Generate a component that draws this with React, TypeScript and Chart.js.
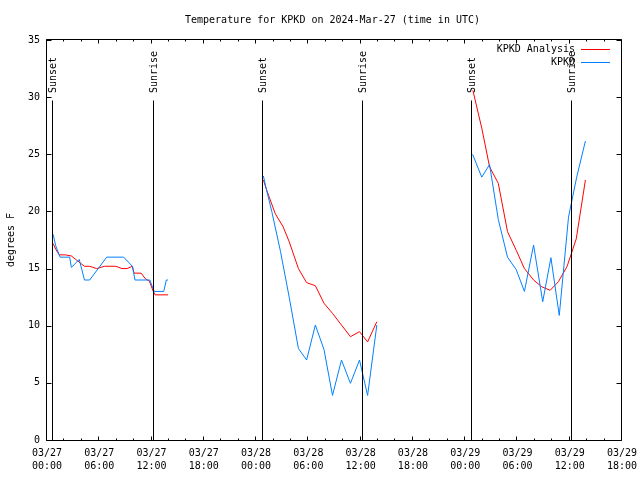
import React, { useEffect, useRef } from "react";
import { Chart, registerables } from "chart.js";

Chart.register(...registerables);

const TITLE = "Temperature for KPKD on 2024-Mar-27 (time in UTC)";
const Y_TITLE = "degrees F";
const FONT = "DejaVu Sans Mono";

// x axis in hours since 2024-03-27 00:00 UTC
const START_UTC = Date.UTC(2024, 2, 27, 0, 0);
const X_MIN = 0;
const X_MAX = 66;
const X_MAJOR = 6;
const X_MINOR = 2;
const Y_MIN = 0;
const Y_MAX = 35;
const Y_STEP = 5;

// KPKD Analysis (red)
const analysisHours1 = [0.7, 1.0, 1.4, 2.1, 2.8, 3.3, 4.3, 4.9, 5.7, 6.6, 7.9, 8.6, 9.2, 9.8, 10.0, 10.8, 11.3, 11.75, 12.2, 12.4, 13.9];
const analysisTemps1 = [17.2, 16.7, 16.2, 16.2, 16.1, 15.8, 15.2, 15.2, 15.0, 15.2, 15.2, 15.0, 15.0, 15.2, 14.6, 14.6, 14.1, 13.9, 13.0, 12.7, 12.7];
const analysisHours2 = [24.84, 25.2, 26.2, 27.1, 27.8, 28.86, 29.8, 30.8, 31.8, 32.77, 33.8, 34.83, 35.87, 36.8, 37.86];
const analysisTemps2 = [22.75, 21.9, 19.8, 18.66, 17.35, 15.0, 13.77, 13.5, 11.96, 11.08, 10.06, 9.04, 9.48, 8.58, 10.35];
const analysisHours3 = [48.88, 49.9, 50.8, 51.8, 52.86, 53.86, 54.8, 55.85, 56.8, 57.76, 58.7, 59.7, 60.75, 61.8];
const analysisTemps3 = [30.6, 27.3, 23.9, 22.46, 18.23, 16.6, 15.0, 14.0, 13.4, 13.1, 13.85, 15.2, 17.6, 22.75];

// KPKD observations (blue)
const obsHours1 = [0.7, 1.0, 1.5, 2.6, 2.8, 3.7, 4.3, 4.9, 6.85, 8.8, 9.8, 10.1, 11.8, 12.3, 13.4, 13.7, 13.9];
const obsTemps1 = [18, 17, 16, 16, 15.1, 15.8, 14, 14, 16, 16, 15.2, 14, 14, 13, 13, 14, 14];
const obsHours2 = [24.84, 25.1, 25.8, 26.8, 27.8, 28.86, 29.8, 30.8, 31.8, 32.77, 33.8, 34.83, 35.87, 36.8, 37.86];
const obsTemps2 = [23.1, 22.2, 20, 16.5, 12.5, 8, 7, 10.06, 7.9, 3.9, 7, 4.96, 7, 3.9, 10.06];
const obsHours3 = [48.85, 49.9, 50.8, 51.8, 52.86, 53.86, 54.8, 55.85, 56.9, 57.84, 58.8, 59.86, 60.8, 61.8];
const obsTemps3 = [25, 23, 24.1, 19.3, 16, 14.9, 13, 17.06, 12.1, 15.95, 10.9, 19.5, 23, 26.16];

// sun events
const sunHours = [0.55, 12.13, 24.65, 36.1, 48.68, 60.1];
const sunLabels = ["Sunset", "Sunrise", "Sunset", "Sunrise", "Sunset", "Sunrise"];

const SERIES_NAMES = ["KPKD Analysis", "KPKD"];
const SERIES_COLORS = ["#ff0000", "#0080ff"];

type Pt = { x: number; y: number | null };

function joinSegments(hs: number[][], ts: number[][]): Pt[] {
  const out: Pt[] = [];
  hs.forEach((h, i) => {
    if (i > 0) out.push({ x: (hs[i - 1][hs[i - 1].length - 1] + h[0]) / 2, y: null });
    h.forEach((x, j) => out.push({ x, y: ts[i][j] }));
  });
  return out;
}

const pad2 = (n: number) => (n < 10 ? "0" + n : "" + n);
function fmtHour(v: number): string[] {
  const d = new Date(START_UTC + v * 3600000);
  return [pad2(d.getUTCMonth() + 1) + "/" + pad2(d.getUTCDate()), pad2(d.getUTCHours()) + ":" + pad2(d.getUTCMinutes())];
}

const decorPlugin = {
  id: "decor",
  afterDatasetsDraw(chart: any) {
    const ctx = chart.ctx as CanvasRenderingContext2D;
    const ca = chart.chartArea;
    const xs = chart.scales.x;
    const ys = chart.scales.y;
    const L = Math.floor(ca.left) - 0.5;
    const R = Math.round(ca.right) - 0.5;
    const T = Math.floor(ca.top) - 0.5;
    const B = Math.round(ca.bottom) + 0.5;
    ctx.save();
    ctx.strokeStyle = "#000";
    ctx.lineWidth = 1;
    // sun lines
    ctx.font = "10px '" + FONT + "'";
    ctx.fillStyle = "#000";
    sunHours.forEach((h, i) => {
      const x = Math.round(xs.getPixelForValue(h)) + 0.5;
      const yTop = ys.getPixelForValue(Y_MIN + (Y_MAX - Y_MIN) * 0.85);
      ctx.beginPath();
      ctx.moveTo(x, B);
      ctx.lineTo(x, Math.round(yTop) + 0.5);
      ctx.stroke();
      ctx.save();
      ctx.translate(x + 0.5, Math.round(yTop) - 7);
      ctx.rotate(-Math.PI / 2);
      ctx.textAlign = "left";
      ctx.textBaseline = "middle";
      ctx.fillText(sunLabels[i], 0, 0);
      ctx.restore();
    });
    // frame
    ctx.beginPath();
    ctx.rect(L, T, R - L, B - T);
    ctx.stroke();
    // x ticks (inward, top and bottom)
    ctx.beginPath();
    for (let v = X_MIN; v <= X_MAX + 1e-9; v += X_MINOR) {
      const x = Math.round(xs.getPixelForValue(v)) - 0.5;
      const len = Math.abs(v % X_MAJOR) < 1e-9 ? 4 : 2;
      ctx.moveTo(x, B);
      ctx.lineTo(x, B - len);
      ctx.moveTo(x, T);
      ctx.lineTo(x, T + len);
    }
    // y ticks (inward, left and right)
    for (let v = Y_MIN; v <= Y_MAX + 1e-9; v += Y_STEP) {
      const y = Math.round(ys.getPixelForValue(v)) + 0.5;
      ctx.moveTo(L, y);
      ctx.lineTo(L + 5, y);
      ctx.moveTo(R, y);
      ctx.lineTo(R - 5, y);
    }
    ctx.stroke();
    // title
    ctx.textAlign = "center";
    ctx.textBaseline = "middle";
    ctx.fillText(TITLE, 332.5, 20);
    // legend
    ctx.textAlign = "right";
    SERIES_NAMES.forEach((name, i) => {
      const y = 49.5 + i * 13;
      ctx.fillStyle = "#000";
      ctx.fillText(name, 575, y);
      ctx.strokeStyle = SERIES_COLORS[i];
      ctx.beginPath();
      ctx.moveTo(581, Math.floor(y) + 0.5);
      ctx.lineTo(610, Math.floor(y) + 0.5);
      ctx.stroke();
    });
    ctx.restore();
  },
};

export default function App() {
  const ref = useRef<HTMLCanvasElement | null>(null);
  useEffect(() => {
    if (!ref.current) return;
    Chart.defaults.font.family = FONT;
    Chart.defaults.font.size = 10;
    Chart.defaults.color = "#000";
    const analysis = joinSegments([analysisHours1, analysisHours2, analysisHours3], [analysisTemps1, analysisTemps2, analysisTemps3]);
    const obs = joinSegments([obsHours1, obsHours2, obsHours3], [obsTemps1, obsTemps2, obsTemps3]);
    const chart = new Chart(ref.current, {
      type: "line",
      data: {
        datasets: [
          {
            label: SERIES_NAMES[1],
            data: obs as any,
            borderColor: SERIES_COLORS[1],
            borderWidth: 1,
            pointRadius: 0,
            tension: 0,
            spanGaps: false,
            order: 0,
          },
          {
            label: SERIES_NAMES[0],
            data: analysis as any,
            borderColor: SERIES_COLORS[0],
            borderWidth: 1,
            pointRadius: 0,
            tension: 0,
            spanGaps: false,
            order: 1,
          },
        ],
      },
      options: {
        animation: false,
        responsive: false,
        devicePixelRatio: 1,
        layout: { padding: { top: 40, right: 18, left: 0, bottom: 0 } },
        plugins: {
          legend: { display: false },
          title: { display: false },
          tooltip: { enabled: false },
        },
        scales: {
          x: {
            type: "linear",
            min: X_MIN,
            max: X_MAX,
            grid: { display: false, drawTicks: false },
            border: { display: false },
            ticks: {
              stepSize: X_MAJOR,
              autoSkip: false,
              maxRotation: 0,
              minRotation: 0,
              padding: 7,
              font: { family: FONT, size: 10, lineHeight: 1.3 },
              callback: (v: any) => fmtHour(Number(v)),
            },
            afterFit: (s: any) => {
              s.height = 40;
              s.paddingLeft = 0;
              s.paddingRight = 0;
            },
          },
          y: {
            type: "linear",
            min: Y_MIN,
            max: Y_MAX,
            grid: { display: false, drawTicks: false },
            border: { display: false },
            ticks: {
              stepSize: Y_STEP,
              padding: 7,
              font: { family: FONT, size: 10 },
            },
            title: {
              display: true,
              text: Y_TITLE,
              font: { family: FONT, size: 10 },
              padding: { top: 5, bottom: 0 },
            },
            afterFit: (s: any) => {
              s.width = 47;
              s.paddingTop = 0;
              s.paddingBottom = 0;
            },
          },
        },
      },
      plugins: [decorPlugin],
    });
    return () => chart.destroy();
  }, []);
  return (
    <div style={{ position: "absolute", left: 0, top: 0, width: 640, height: 480, background: "#fff" }}>
      <canvas ref={ref} width={640} height={480} style={{ display: "block" }} />
    </div>
  );
}
